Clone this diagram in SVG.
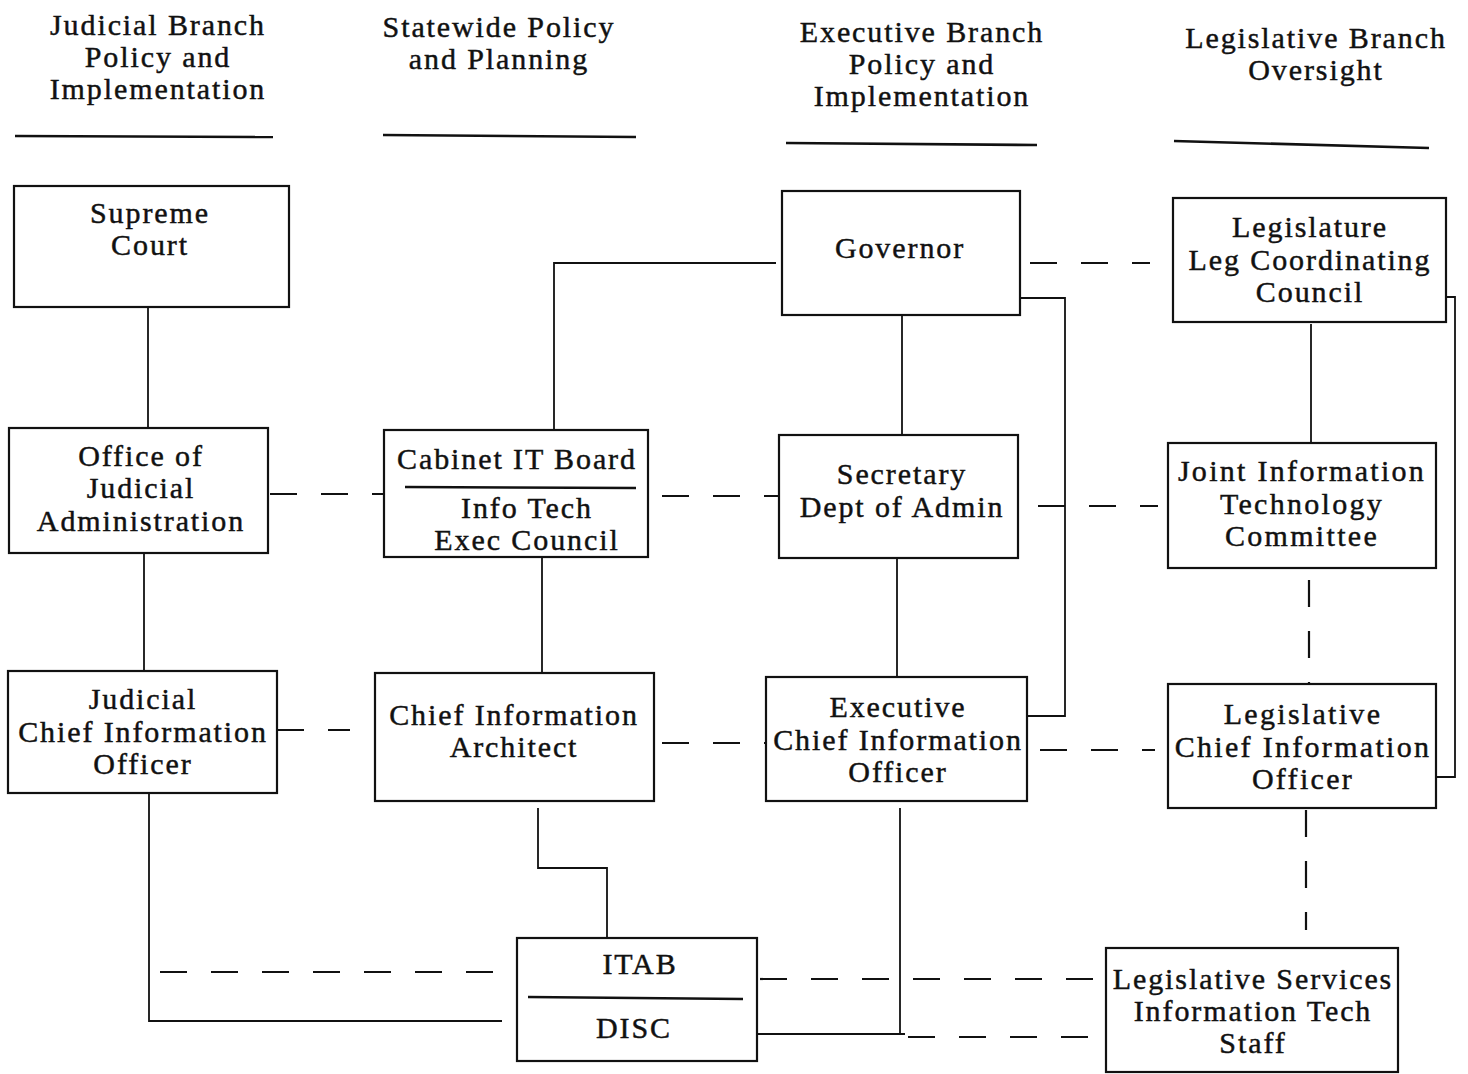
<svg xmlns="http://www.w3.org/2000/svg" width="1468" height="1074" viewBox="0 0 1468 1074">
<style>
text{font-family:"Liberation Serif","Times New Roman",serif;font-size:30px;letter-spacing:1.9px;fill:#111;stroke:#111;stroke-width:0.45;text-anchor:middle}
.box{fill:#fff;stroke:#111;stroke-width:2.2}
.rule{stroke:#111;stroke-width:2.6}
.solid{fill:none;stroke:#111;stroke-width:1.8}
.dash{fill:none;stroke:#111;stroke-width:2.2;stroke-dasharray:27 24}
</style>
<rect width="1468" height="1074" fill="#fff"/>
<g id="headers">
<text x="158" y="35">Judicial Branch</text><text x="158" y="67">Policy and</text><text x="158" y="99">Implementation</text>
<line class="rule" x1="15" y1="136" x2="273" y2="137"/>
<text x="499" y="37">Statewide Policy</text><text x="499" y="69">and Planning</text>
<line class="rule" x1="383" y1="135" x2="636" y2="137"/>
<text x="922" y="42">Executive Branch</text><text x="922" y="74">Policy and</text><text x="922" y="106">Implementation</text>
<line class="rule" x1="786" y1="143" x2="1037" y2="145"/>
<text x="1316" y="48">Legislative Branch</text><text x="1316" y="80">Oversight</text>
<line class="rule" x1="1174" y1="141" x2="1429" y2="148"/>
</g>
<g id="connectors">
<path class="solid" d="M148,307 V428"/>
<path class="solid" d="M144,553 V671"/>
<path class="solid" d="M776,263 H554 V430"/>
<path class="solid" d="M902,315 V435"/>
<path class="solid" d="M897,558 V677"/>
<path class="solid" d="M1020,298 H1065 V716 H1027"/>
<path class="solid" d="M1311,324 V443"/>
<path class="solid" d="M1420,297 H1455 V777 H1422"/>
<path class="solid" d="M542,557 V673"/>
<path class="solid" d="M538,808 V868 H607 V938"/>
<path class="solid" d="M149,793 V1021 H502"/>
<path class="solid" d="M900,808 V1033"/>
<path class="solid" d="M757,1034 H905"/>
<path class="dash" d="M1030,263 H1150"/>
<path class="dash" d="M270,494 H384"/>
<path class="dash" d="M662,496 H779"/>
<path class="dash" d="M1038,506 H1158"/>
<path class="dash" d="M277,730 H350"/>
<path class="dash" d="M662,743 H766"/>
<path class="dash" d="M1040,750 H1155"/>
<path class="dash" d="M1309,580 V684"/>
<path class="dash" d="M1306,810 V930"/>
<path class="dash" d="M160,972 H504"/>
<path class="dash" d="M760,979 H1100"/>
<path class="dash" d="M908,1037 H1100"/>
</g>
<g id="supreme-court"><rect class="box" x="14" y="186" width="275" height="121"/><text x="150" y="223">Supreme</text><text x="150" y="255">Court</text></g>
<g id="governor"><rect class="box" x="782" y="191" width="238" height="124"/><text x="900" y="258">Governor</text></g>
<g id="leg-coordinating-council"><rect class="box" x="1173" y="198" width="273" height="124"/><text x="1310" y="237">Legislature</text><text x="1310" y="270">Leg Coordinating</text><text x="1310" y="302">Council</text></g>
<g id="office-judicial-admin"><rect class="box" x="9" y="428" width="259" height="125"/><text x="141" y="466">Office of</text><text x="141" y="498">Judicial</text><text x="141" y="531">Administration</text></g>
<g id="cabinet-it-board"><rect class="box" x="384" y="430" width="264" height="127"/><line class="rule" x1="405" y1="487" x2="636" y2="488"/><text x="517" y="469">Cabinet IT Board</text><text x="527" y="518">Info Tech</text><text x="527" y="550">Exec Council</text></g>
<g id="secretary-admin"><rect class="box" x="779" y="435" width="239" height="123"/><text x="902" y="484">Secretary</text><text x="902" y="517">Dept of Admin</text></g>
<g id="joint-it-committee"><rect class="box" x="1168" y="443" width="268" height="125"/><text x="1302" y="481" style="letter-spacing:2.3px">Joint Information</text><text x="1302" y="514" style="letter-spacing:2.3px">Technology</text><text x="1302" y="546" style="letter-spacing:2.3px">Committee</text></g>
<g id="judicial-cio"><rect class="box" x="8" y="671" width="269" height="122"/><text x="143" y="709">Judicial</text><text x="143" y="742">Chief Information</text><text x="143" y="774">Officer</text></g>
<g id="chief-info-architect"><rect class="box" x="375" y="673" width="279" height="128"/><text x="514" y="725">Chief Information</text><text x="514" y="757">Architect</text></g>
<g id="executive-cio"><rect class="box" x="766" y="677" width="261" height="124"/><text x="898" y="717">Executive</text><text x="898" y="750">Chief Information</text><text x="898" y="782">Officer</text></g>
<g id="legislative-cio"><rect class="box" x="1168" y="684" width="268" height="124"/><text x="1303" y="724" style="letter-spacing:2.3px">Legislative</text><text x="1303" y="757" style="letter-spacing:2.3px">Chief Information</text><text x="1303" y="789" style="letter-spacing:2.3px">Officer</text></g>
<g id="itab-disc"><rect class="box" x="517" y="938" width="240" height="123"/><line class="rule" x1="528" y1="997" x2="743" y2="999"/><text x="640" y="974">ITAB</text><text x="634" y="1038">DISC</text></g>
<g id="leg-services-it-staff"><rect class="box" x="1106" y="948" width="292" height="124"/><text x="1253" y="989">Legislative Services</text><text x="1253" y="1021">Information Tech</text><text x="1253" y="1053">Staff</text></g>
</svg>
